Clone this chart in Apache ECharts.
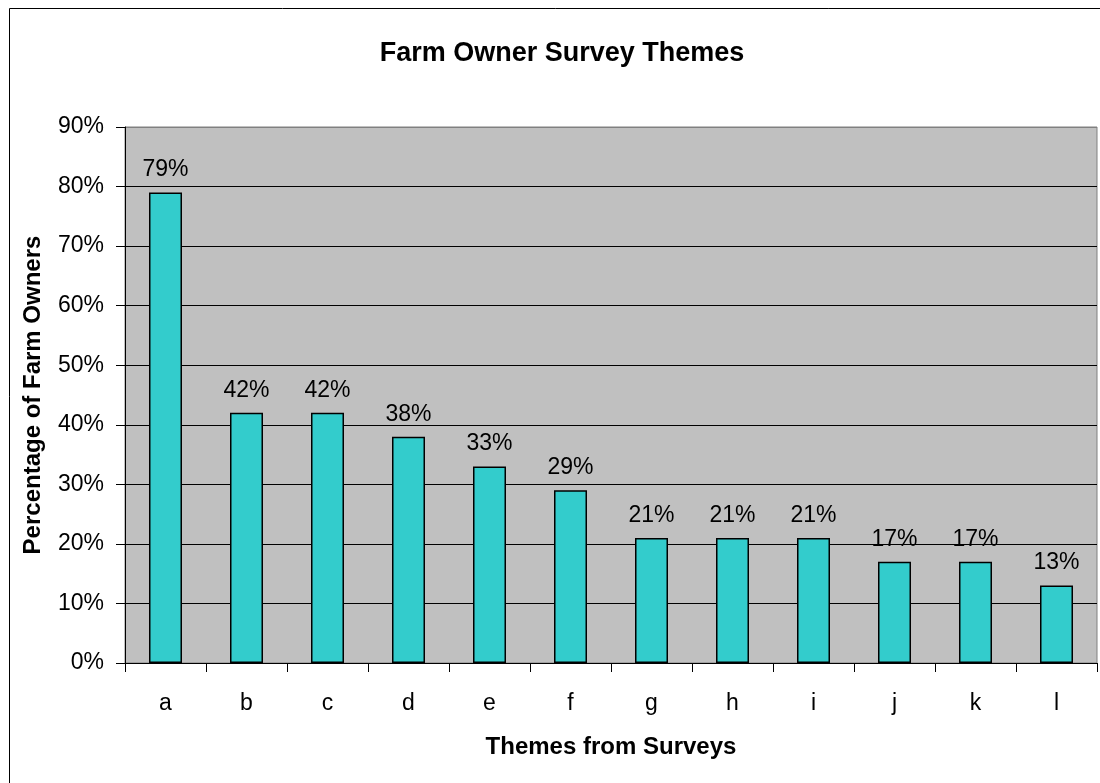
<!DOCTYPE html>
<html>
<head>
<meta charset="utf-8">
<title>Farm Owner Survey Themes</title>
<script src="https://cdn.jsdelivr.net/npm/echarts@6/dist/echarts.min.js"></script>
<style>
  html, body { margin: 0; padding: 0; background: #ffffff; }
  #chart { width: 1100px; height: 783px; }
</style>
</head>
<body>
<div id="chart"></div>
<script>
// Survey themes and share of farm owners mentioning each (percent)
const themes = ['a', 'b', 'c', 'd', 'e', 'f', 'g', 'h', 'i', 'j', 'k', 'l'];
const shares = [79, 42, 42, 38, 33, 29, 21, 21, 21, 17, 17, 13];
const yTicks = [0, 10, 20, 30, 40, 50, 60, 70, 80, 90];

const FONT = '"Liberation Sans", Arial, sans-serif';

// Gridlines are dark, except the top edge of the plot which is grey
const gridColors = yTicks.map((t, i) => (i === yTicks.length - 1 ? '#808080' : '#000000'));

const chart = echarts.init(document.getElementById('chart'), null, { renderer: 'canvas' });

chart.setOption({
  animation: false,
  backgroundColor: '#ffffff',
  title: {
    text: 'Farm Owner Survey Themes',
    left: 557,
    top: 35,
    textAlign: 'center',
    textStyle: { fontFamily: FONT, fontSize: 27, fontWeight: 'bold', color: '#000000' }
  },
  graphic: [{
    type: 'rect',
    shape: { x: 9.5, y: 8.5, width: 1200, height: 900 },
    style: { fill: null, stroke: '#000000', lineWidth: 1 },
    silent: true,
    z: 100
  }],
  grid: {
    left: 125,
    right: 3,
    top: 127,
    bottom: 120,
    show: true,
    backgroundColor: '#C0C0C0',
    borderColor: '#808080',
    borderWidth: 1
  },
  xAxis: {
    type: 'category',
    data: themes,
    name: 'Themes from Surveys',
    nameLocation: 'middle',
    nameGap: 72,
    nameTextStyle: { fontFamily: FONT, fontSize: 24, fontWeight: 'bold', color: '#000000' },
    axisLine: { show: true, lineStyle: { color: '#000000', width: 1 } },
    axisTick: { show: true, length: 9, alignWithLabel: false, lineStyle: { color: '#000000' } },
    axisLabel: { fontFamily: FONT, fontSize: 23, color: '#000000', margin: 29 },
    splitLine: { show: false }
  },
  yAxis: {
    type: 'value',
    min: 0,
    max: 90,
    interval: 10,
    name: 'Percentage of Farm Owners',
    nameLocation: 'middle',
    nameGap: 80,
    nameTextStyle: { fontFamily: FONT, fontSize: 24, fontWeight: 'bold', color: '#000000' },
    axisLine: { show: true, lineStyle: { color: '#000000', width: 1 } },
    axisTick: { show: true, length: 9, inside: false, lineStyle: { color: '#000000' } },
    axisLabel: {
      fontFamily: FONT, fontSize: 23, color: '#000000', margin: 21,
      formatter: v => v + '%'
    },
    splitLine: { show: true, lineStyle: { color: gridColors, width: 1 } }
  },
  series: [{
    type: 'bar',
    data: shares,
    barWidth: 33,
    itemStyle: { color: '#33CCCC', borderColor: '#000000', borderWidth: 1.5 },
    label: {
      show: true,
      position: 'top',
      distance: 11,
      fontFamily: FONT,
      fontSize: 23,
      color: '#000000',
      formatter: p => p.value + '%'
    }
  }]
});
</script>
</body>
</html>
